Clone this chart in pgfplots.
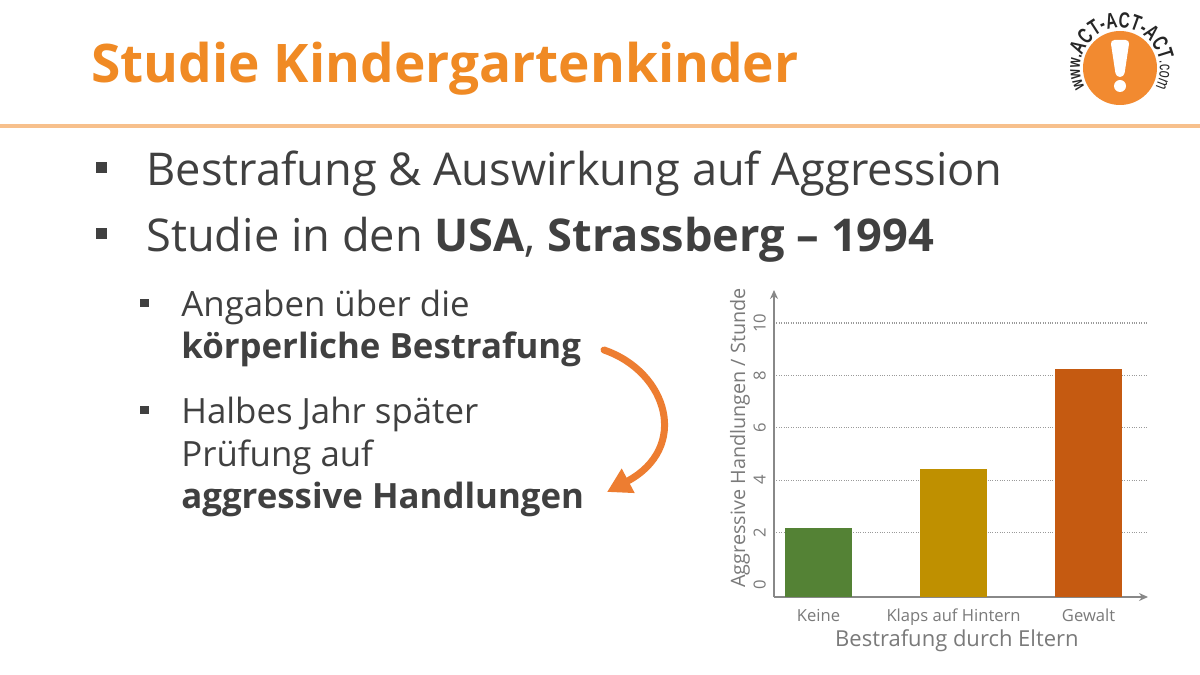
\documentclass[border=0pt]{standalone}
\usepackage{fontspec}
\setmainfont{Open Sans}
\newfontfamily\logofont{Liberation Sans}[FakeStretch=0.7]
\usepackage{pgfplots}
\pgfplotsset{compat=1.18}
\usetikzlibrary{arrows.meta,decorations.text}
\definecolor{titleorange}{HTML}{F08A24}
\definecolor{lineorange}{HTML}{F7C08C}
\definecolor{textgray}{HTML}{404040}
\definecolor{chartgray}{HTML}{7A7A7A}
\definecolor{axisgray}{HTML}{888888}
\definecolor{gridgray}{HTML}{9A9A9A}
\definecolor{barA}{HTML}{548235}
\definecolor{barB}{HTML}{BF9000}
\definecolor{barC}{HTML}{C55A11}
\definecolor{arroworange}{HTML}{ED7D31}
\definecolor{logoorange}{HTML}{F28A30}
\definecolor{logotext}{HTML}{262626}
\begin{document}
\begin{tikzpicture}
\path[fill=white] (0,0) rectangle (600pt,337.5pt);
\begin{scope}[x=0.5pt,y=-0.5pt,yshift=337.5pt]
  % title
  \node[anchor=base west, inner sep=0pt, text=titleorange,
        font=\fontsize{26.6pt}{32pt}\selectfont\bfseries] at (91,83) {Studie Kindergartenkinder};
  \fill[lineorange] (0,124) rectangle (1200,128);
  % main bullets
  \fill[textgray] (96,162.5) rectangle (107,173.5);
  \node[anchor=base west, inner sep=0pt, text=textgray,
        font=\fontsize{22.6pt}{27pt}\selectfont] at (146,186) {Bestrafung \& Auswirkung auf Aggression};
  \fill[textgray] (96,228) rectangle (107,239);
  \node[anchor=base west, inner sep=0pt, text=textgray,
        font=\fontsize{22.6pt}{27pt}\selectfont] at (146,252) {Studie in den \textbf{USA}, \textbf{Strassberg – 1994}};
  % sub bullets
  \fill[textgray] (140,299) rectangle (148.5,307.5);
  \fill[textgray] (140,406) rectangle (148.5,414.5);
  \begin{scope}[every node/.style={anchor=base west, inner sep=0pt, text=textgray,
        font=\fontsize{17.4pt}{21pt}\selectfont}]
    \node at (181,317) {Angaben über die};
    \node at (181,359) {\textbf{körperliche Bestrafung}};
    \node at (181,424) {Halbes Jahr später};
    \node at (181,467) {Prüfung auf};
    \node at (181,509) {\textbf{aggressive Handlungen}};
  \end{scope}
  % arrow
  \draw[arroworange, line width=3.5pt, line cap=round,
        -{Triangle[length=12pt,width=13pt]}]
       (604,350) .. controls (668,372) and (690,448) .. (607,492);
\end{scope}
% logo
\begin{scope}[shift={(560pt,303.5pt)}]
  \fill[logoorange] (0,0) circle (18.5pt);
  \fill[white, rounded corners=2pt] (-4.8pt,14pt) -- (4.8pt,14pt) -- (2pt,-4.5pt) -- (-2pt,-4.5pt) -- cycle;
  \fill[white] (0,-9pt) circle (3pt);
  \path[decorate, decoration={text along path, text color=logotext, text align=center,
        text={|\logofont\fontsize{9pt}{10pt}\selectfont\bfseries|www.|\logofont\fontsize{11pt}{12pt}\selectfont\bfseries|ACT-ACT-ACT|\logofont\fontsize{9pt}{10pt}\selectfont\mdseries|.com}}]
       (225:20pt) arc[start angle=225, end angle=-45, radius=20pt];
\end{scope}
% chart
\begin{axis}[at={(387pt,39pt)}, anchor=south west, scale only axis,
  width=187pt, height=153.5pt,
  xmin=-0.33, xmax=2.44, ymin=-0.46, ymax=11.26,
  axis lines=left,
  axis line style={axisgray, line width=0.9pt, -{Stealth[length=4.5pt,width=4pt]}},
  xtick={0,1,2}, xticklabels={Keine, Klaps auf Hintern, Gewalt},
  ytick={2,4,...,10}, extra y ticks={0}, extra y tick style={grid=none},
  major tick length=0pt, tick style={draw=none},
  ymajorgrids, grid style={gridgray, line width=0.6pt, dash pattern=on 0.5pt off 0.7pt},
  /pgf/number format/assume math mode=true,
  ticklabel style={font=\fontsize{8.3pt}{10pt}\selectfont, text=chartgray},
  xticklabel style={anchor=base, inner sep=0pt, yshift=-12.35pt},
  yticklabel style={xshift=-4.2pt, rotate=90, anchor=base, inner sep=0pt},
  xlabel={Bestrafung durch Eltern},
  xlabel style={at={(axis description cs:0.489,-0.162)}, anchor=base, inner sep=0pt,
     font=\fontsize{11pt}{13pt}\selectfont, text=chartgray},
  ylabel={Aggressive Handlungen / Stunde},
  ylabel style={at={(axis description cs:-0.0775,0.518)}, anchor=base, inner sep=0pt,
     font=\fontsize{9.9pt}{12pt}\selectfont, text=chartgray},
]
\addplot[fill=barA, draw=none] coordinates {(-0.25,-0.46) (-0.25,2.16) (0.25,2.16) (0.25,-0.46)};
\addplot[fill=barB, draw=none] coordinates {(0.75,-0.46) (0.75,4.44) (1.25,4.44) (1.25,-0.46)};
\addplot[fill=barC, draw=none] coordinates {(1.75,-0.46) (1.75,8.24) (2.25,8.24) (2.25,-0.46)};
\end{axis}
\end{tikzpicture}
\end{document}
